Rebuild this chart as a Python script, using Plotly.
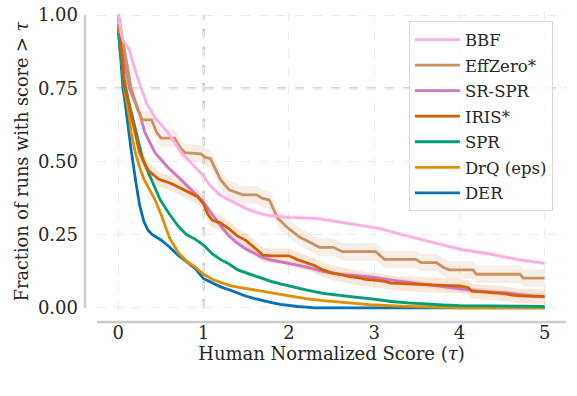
import plotly.graph_objects as go

# ---------------- data ----------------
bbf_x = [0, 0.03, 0.055, 0.13, 0.21, 0.27, 0.33, 0.43, 0.58, 0.74, 0.9, 1.0, 1.07, 1.19, 1.34, 1.54, 1.73, 2.0, 2.32, 2.71, 3.06, 3.34, 3.73, 4.04, 4.32, 4.71, 5.0]
bbf_y = [1.0, 0.94, 0.915, 0.88, 0.80, 0.75, 0.70, 0.65, 0.60, 0.53, 0.48, 0.45, 0.42, 0.386, 0.363, 0.334, 0.317, 0.309, 0.306, 0.289, 0.272, 0.249, 0.221, 0.198, 0.186, 0.164, 0.152]
bbf_ci = 0.008

effzero_x = [0, 0.08, 0.15, 0.23, 0.28, 0.39, 0.45, 0.50, 0.66, 0.72, 0.78, 0.97, 1.02, 1.08, 1.15, 1.2, 1.3, 1.46, 1.62, 1.69, 1.77, 1.87, 1.97, 2.12, 2.36, 2.52, 2.63, 3.02, 3.12, 3.49, 3.55, 3.73, 3.81, 3.88, 4.16, 4.2, 4.71, 4.75, 5.0]
effzero_y = [1.0, 0.86, 0.75, 0.676, 0.642, 0.642, 0.60, 0.58, 0.58, 0.55, 0.53, 0.526, 0.514, 0.51, 0.47, 0.437, 0.403, 0.386, 0.386, 0.374, 0.369, 0.306, 0.278, 0.243, 0.207, 0.207, 0.192, 0.192, 0.166, 0.166, 0.155, 0.155, 0.139, 0.13, 0.13, 0.115, 0.115, 0.102, 0.102]
effzero_ci = 0.03

srspr_x = [0, 0.06, 0.13, 0.19, 0.25, 0.31, 0.43, 0.58, 0.74, 0.9, 1.0, 1.1, 1.2, 1.3, 1.4, 1.5, 1.6, 1.7, 1.8, 1.9, 2.0, 2.2, 2.4, 2.6, 2.8, 3.0, 3.2, 3.4, 3.6, 3.8, 4.0, 4.2, 4.4, 4.6, 4.8, 5.0]
srspr_y = [1.0, 0.86, 0.75, 0.71, 0.664, 0.60, 0.53, 0.48, 0.437, 0.39, 0.36, 0.32, 0.28, 0.245, 0.22, 0.20, 0.185, 0.172, 0.163, 0.157, 0.15, 0.14, 0.125, 0.115, 0.11, 0.104, 0.095, 0.088, 0.08, 0.072, 0.065, 0.058, 0.054, 0.05, 0.043, 0.039]
srspr_ci = 0.01

iris_x = [0, 0.07, 0.15, 0.25, 0.35, 0.47, 0.62, 0.78, 0.93, 1.0, 1.05, 1.1, 1.2, 1.3, 1.4, 1.5, 1.6, 1.7, 1.8, 2.0, 2.1, 2.2, 2.3, 2.4, 2.5, 2.6, 2.7, 2.8, 2.9, 3.0, 3.1, 3.2, 3.4, 3.6, 3.8, 4.0, 4.1, 4.15, 4.3, 4.5, 4.6, 4.7, 5.0]
iris_y = [1.0, 0.78, 0.66, 0.53, 0.47, 0.44, 0.425, 0.403, 0.38, 0.355, 0.32, 0.30, 0.29, 0.27, 0.245, 0.23, 0.205, 0.18, 0.178, 0.178, 0.165, 0.155, 0.145, 0.13, 0.12, 0.115, 0.108, 0.104, 0.098, 0.095, 0.092, 0.085, 0.082, 0.078, 0.077, 0.075, 0.07, 0.057, 0.055, 0.05, 0.045, 0.041, 0.039]
iris_ci = 0.025

spr_x = [0, 0.07, 0.15, 0.21, 0.29, 0.39, 0.49, 0.6, 0.7, 0.8, 0.9, 1.0, 1.1, 1.2, 1.3, 1.4, 1.5, 1.6, 1.7, 1.8, 1.9, 2.0, 2.2, 2.4, 2.6, 2.8, 3.0, 3.2, 3.4, 3.6, 3.8, 4.0, 4.5, 5.0]
spr_y = [0.94, 0.76, 0.67, 0.60, 0.505, 0.437, 0.37, 0.32, 0.28, 0.25, 0.235, 0.215, 0.185, 0.165, 0.15, 0.13, 0.12, 0.108, 0.098, 0.09, 0.082, 0.075, 0.062, 0.05, 0.042, 0.036, 0.03, 0.022, 0.017, 0.013, 0.01, 0.008, 0.006, 0.005]
spr_ci = 0.006

drq_x = [0, 0.07, 0.13, 0.15, 0.2, 0.25, 0.3, 0.43, 0.5, 0.6, 0.7, 0.8, 0.9, 1.0, 1.1, 1.2, 1.3, 1.4, 1.5, 1.6, 1.7, 1.8, 1.9, 2.0, 2.2, 2.4, 2.6, 2.8, 3.0, 3.3, 3.6, 4.0, 5.0]
drq_y = [0.97, 0.75, 0.65, 0.60, 0.53, 0.48, 0.44, 0.37, 0.32, 0.24, 0.19, 0.16, 0.14, 0.115, 0.098, 0.087, 0.077, 0.071, 0.066, 0.06, 0.055, 0.05, 0.045, 0.04, 0.032, 0.025, 0.02, 0.015, 0.01, 0.006, 0.003, 0.0, 0.0]
drq_ci = 0.005

der_x = [0, 0.03, 0.055, 0.08, 0.1, 0.15, 0.2, 0.25, 0.3, 0.35, 0.4, 0.5, 0.6, 0.7, 0.8, 0.9, 1.0, 1.1, 1.2, 1.3, 1.4, 1.5, 1.6, 1.7, 1.8, 1.9, 2.0, 2.1, 2.2, 2.3, 5.0]
der_y = [0.96, 0.85, 0.75, 0.70, 0.65, 0.54, 0.44, 0.35, 0.295, 0.265, 0.25, 0.232, 0.208, 0.18, 0.158, 0.135, 0.10, 0.085, 0.072, 0.062, 0.05, 0.04, 0.032, 0.024, 0.018, 0.012, 0.008, 0.005, 0.003, 0.0, 0.0]
der_ci = 0.005

x_ticks = [0, 1, 2, 3, 4, 5]
y_ticks = [0.0, 0.25, 0.5, 0.75, 1.0]
y_tick_labels = ["0.00", "0.25", "0.50", "0.75", "1.00"]

series = [
    # name, x, y, ci, rgb
    ("DER", der_x, der_y, der_ci, (1, 115, 178)),
    ("DrQ (eps)", drq_x, drq_y, drq_ci, (222, 143, 5)),
    ("SPR", spr_x, spr_y, spr_ci, (2, 158, 115)),
    ("SR-SPR", srspr_x, srspr_y, srspr_ci, (204, 120, 188)),
    ("IRIS*", iris_x, iris_y, iris_ci, (213, 94, 0)),
    ("EffZero*", effzero_x, effzero_y, effzero_ci, (202, 145, 97)),
    ("BBF", bbf_x, bbf_y, bbf_ci, (251, 175, 228)),
]
legend_order = ["BBF", "EffZero*", "SR-SPR", "IRIS*", "SPR", "DrQ (eps)", "DER"]

FONT = "DejaVu Serif"
TXT = "#262626"

fig = go.Figure()
for name, xs, ys, ci, (r, g, b) in series:
    up = [v + ci for v in ys]
    lo = [max(v - ci, 0) for v in ys]
    fig.add_trace(go.Scatter(
        x=list(xs) + list(xs)[::-1], y=up + lo[::-1], fill="toself",
        fillcolor=f"rgba({r},{g},{b},0.15)", line=dict(width=0),
        hoverinfo="skip", showlegend=False, mode="lines"))
for name, xs, ys, ci, (r, g, b) in series:
    fig.add_trace(go.Scatter(
        x=xs, y=ys, mode="lines", name=name,
        line=dict(color=f"rgb({r},{g},{b})", width=2.8),
        legendrank=legend_order.index(name) + 1,
        legendgroup=name))

grid = "#ececec"
fig.update_xaxes(
    range=[-0.25, 5.25], tickvals=x_ticks, showline=False, zeroline=False,
    showgrid=True, gridcolor=grid, griddash="dash", gridwidth=1,
    ticks="", ticklabelstandoff=10, ticklabeloverflow="allow",
    tickfont=dict(family=FONT, size=18, color=TXT),
    title=dict(text="Human Normalized Score (<i>τ</i>)", font=dict(family=FONT, size=18, color=TXT), standoff=0),
)
fig.update_yaxes(
    range=[-0.007, 1.007], tickvals=y_ticks, ticktext=y_tick_labels,
    showline=False, zeroline=False,
    showgrid=True, gridcolor=grid, griddash="dash", gridwidth=1,
    ticks="", ticklabelstandoff=18, ticklabeloverflow="allow",
    tickfont=dict(family=FONT, size=18, color=TXT),
    title=dict(text="Fraction of runs with score > <i>τ</i>", font=dict(family=FONT, size=17.7, color=TXT), standoff=4),
)

shapes = [
    # offset spines
    dict(type="line", xref="paper", yref="y", x0=-0.0256, x1=-0.0256, y0=0, y1=1,
         line=dict(color="#cccccc", width=2.6)),
    dict(type="line", xref="paper", yref="paper", x0=0, x1=1, y0=-0.0404, y1=-0.0404,
         line=dict(color="#cccccc", width=2.6)),
    # reference lines
    dict(type="line", xref="paper", yref="y", x0=0, x1=1, y0=0.75, y1=0.75,
         line=dict(color="#b0b0b0", width=1.8, dash="dash"), layer="below"),
    dict(type="line", xref="x", yref="y", x0=1, x1=1, y0=0, y1=1,
         line=dict(color="#b0b0b0", width=1.8, dash="dash"), layer="below"),
]

fig.update_layout(
    width=577, height=396,
    margin=dict(l=97, r=11, t=13, b=86, autoexpand=False),
    plot_bgcolor="white", paper_bgcolor="white",
    shapes=shapes,
    showlegend=True,
    legend=dict(
        x=0.665, y=0.972, xanchor="left", yanchor="top",
        bgcolor="rgba(255,255,255,0.85)", bordercolor="#d9d9d9", borderwidth=1,
        font=dict(family=FONT, size=16.5, color=TXT),
        traceorder="grouped", tracegroupgap=1.1, itemwidth=45,
    ),
    font=dict(family=FONT, color=TXT),
)

# remove the browser's default 8px page margin so the figure fills the window
fig.write_html("out.html", config={"displayModeBar": False},
               post_script="document.body.style.margin='0px';")
